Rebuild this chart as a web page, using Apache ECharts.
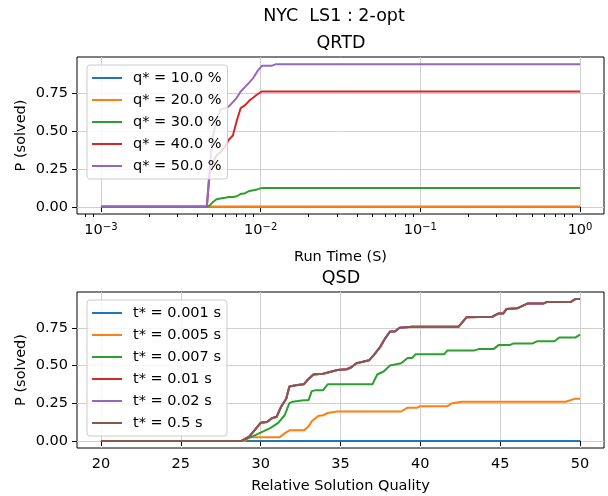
<!DOCTYPE html>
<html><head><meta charset="utf-8">
<script src="https://cdn.jsdelivr.net/npm/echarts@6/dist/echarts.min.js"></script>
<style>html,body{margin:0;padding:0;background:#fff}#c{width:608px;height:496px}</style>
</head><body><div id="c"></div>
<script>
// ---- texts ----
const supTitle = 'NYC  LS1 : 2-opt';
const qrtdTitle = 'QRTD';
const qsdTitle = 'QSD';
const qrtdXName = 'Run Time (S)';
const qsdXName = 'Relative Solution Quality';
const yName = 'P (solved)';

// ---- ticks ----
const qrtdTicks = [0.001, 0.01, 0.1, 1];
const qrtdTickExps = ['\u22123', '\u22122', '\u22121', '0'];
const qsdTicks = [20, 25, 30, 35, 40, 45, 50];
const pTicks = [0, 0.25, 0.5, 0.75];
const pTickLabels = ['0.00', '0.25', '0.50', '0.75'];

// ---- QRTD data (run time in s) ----
const qrtdNames = ['q* = 10.0 %', 'q* = 20.0 %', 'q* = 30.0 %', 'q* = 40.0 %', 'q* = 50.0 %'];
const qrtdTimes = [0.001, 0.0046, 0.0048, 0.0050, 0.0053, 0.0056, 0.0060, 0.0063, 0.0067, 0.0071,
                   0.0075, 0.0080, 0.0085, 0.0090, 0.0095, 0.0102, 0.0110, 0.0118, 0.0125, 1.0];
const qrtd10 = [0,0,0,0,0,0,0,0,0,0,0,0,0,0,0,0,0,0,0,0];
const qrtd20 = [0,0,0,0,0,0,0,0,0,0,0,0,0,0,0,0,0,0,0,0];
const qrtd30 = [0,0,0.01,0.03,0.05,0.055,0.06,0.065,0.065,0.07,0.085,0.09,0.105,0.11,0.115,0.125,0.125,0.125,0.125,0.125];
const qrtd40 = [0,0,0.22,0.29,0.34,0.36,0.40,0.44,0.47,0.57,0.65,0.67,0.70,0.72,0.74,0.76,0.76,0.76,0.76,0.76];
const qrtd50 = [0,0,0.26,0.45,0.58,0.64,0.65,0.66,0.69,0.72,0.76,0.79,0.82,0.85,0.89,0.93,0.93,0.93,0.94,0.94];

// ---- QSD data (relative solution quality) ----
const qsdNames = ['t* = 0.001 s', 't* = 0.005 s', 't* = 0.007 s', 't* = 0.01 s', 't* = 0.02 s', 't* = 0.5 s'];
const qsd0001X = [20, 50];
const qsd0001Y = [0, 0];
const qsd0005X = [20, 29.0, 29.3, 31.2, 31.5, 31.8, 32.7, 33.0, 33.2, 33.6, 33.9, 34.2, 34.8, 38.8, 39.2, 39.8, 40.0, 41.7, 42.0, 42.6, 49.1, 49.7, 50];
const qsd0005Y = [0, 0, 0.025, 0.025, 0.05, 0.07, 0.07, 0.095, 0.13, 0.165, 0.17, 0.185, 0.195, 0.195, 0.22, 0.22, 0.23, 0.23, 0.25, 0.26, 0.26, 0.28, 0.28];
const qsd0007X = [20, 28.8, 29.5, 30.1, 30.6, 31.1, 31.5, 31.8, 32.0, 32.7, 33.0, 33.2, 33.4, 33.9, 34.2, 37.0, 37.3, 37.7, 38.1, 38.8,
                  39.2, 39.5, 39.7, 41.5, 41.7, 43.4, 43.7, 44.6, 44.9, 45.6, 45.8, 47.0, 47.3, 48.4, 48.7, 49.7, 50];
const qsd0007Y = [0, 0, 0.03, 0.06, 0.085, 0.12, 0.17, 0.25, 0.26, 0.27, 0.27, 0.33, 0.335, 0.335, 0.375, 0.375, 0.44, 0.46, 0.50, 0.515,
                  0.55, 0.55, 0.575, 0.575, 0.60, 0.60, 0.61, 0.61, 0.635, 0.635, 0.645, 0.645, 0.66, 0.66, 0.685, 0.685, 0.705];
// t* = 0.01 s, 0.02 s and 0.5 s coincide
const qsdHighX = [20, 28.8, 29.3, 30.0, 30.4, 30.7, 31.0, 31.3, 31.6, 31.8, 32.3, 32.7, 32.9, 33.3, 33.9, 34.1, 34.8, 35.4, 35.7, 36.0,
                  36.4, 36.8, 37.1, 37.5, 37.8, 38.1, 38.4, 38.7, 39.5, 42.4, 42.9, 44.5, 44.9, 45.2, 45.4, 46.1, 46.7, 47.7, 47.9, 49.4, 49.7, 50];
const qsdHighY = [0, 0, 0.03, 0.12, 0.125, 0.15, 0.16, 0.23, 0.28, 0.36, 0.37, 0.375, 0.40, 0.44, 0.445, 0.45, 0.47, 0.475, 0.49, 0.515,
                  0.525, 0.535, 0.57, 0.625, 0.68, 0.725, 0.725, 0.75, 0.757, 0.757, 0.82, 0.823, 0.845, 0.845, 0.875, 0.88, 0.91, 0.91, 0.92, 0.92, 0.94, 0.94];

const colors = ['#1f77b4', '#ff7f0e', '#2ca02c', '#d62728', '#9467bd', '#8c564b'];
const FONT = '"DejaVu Sans", sans-serif';
const FS = 14.5;

function zip(xs, ys) { return xs.map((x, i) => [x, ys[i]]); }

// minor tick positions for the log axis
const minorTicks = [];
for (let e = -4; e <= 0; e++) for (let m = 2; m <= 9; m++) {
  const v = m * Math.pow(10, e);
  if (v > 0.000708 && v < 1.41) minorTicks.push(+v.toPrecision(3));
}

const grid0 = { left: 77, right: 4, top: 57, height: 157, show: true, borderColor: '#000', borderWidth: 1, backgroundColor: 'transparent' };
const grid1 = { left: 77, right: 4, top: 292, height: 156, show: true, borderColor: '#000', borderWidth: 1, backgroundColor: 'transparent' };

const tickStyle = { lineStyle: { color: '#000', width: 1 } };
const labelStyle = { color: '#000', fontSize: FS, fontFamily: FONT };
const splitStyle = { show: true, lineStyle: { color: '#cfcfcf', width: 1 } };

function yAxis(gi) {
  return {
    type: 'value', gridIndex: gi, min: -0.047, max: 0.987,
    axisLine: { show: false },
    axisTick: Object.assign({ show: true, length: 5, customValues: pTicks }, tickStyle),
    axisLabel: Object.assign({ customValues: pTicks, margin: 9,
      formatter: v => { const i = pTicks.findIndex(t => Math.abs(t - v) < 1e-6); return i >= 0 ? pTickLabels[i] : ''; } }, labelStyle),
    splitLine: splitStyle,
    name: yName, nameLocation: 'middle', nameRotate: 90, nameGap: 48, nameMoveOverlap: false,
    nameTextStyle: { color: '#000', fontSize: FS, fontFamily: FONT }
  };
}

const series = [];
const qrtdData = [qrtd10, qrtd20, qrtd30, qrtd40, qrtd50];
qrtdData.forEach((ys, i) => series.push({
  name: qrtdNames[i], type: 'line', xAxisIndex: 0, yAxisIndex: 0, data: zip(qrtdTimes, ys),
  symbol: 'none', lineStyle: { width: 2, color: colors[i] }, itemStyle: { color: colors[i] }
}));
const qsdData = [[qsd0001X, qsd0001Y], [qsd0005X, qsd0005Y], [qsd0007X, qsd0007Y], [qsdHighX, qsdHighY], [qsdHighX, qsdHighY], [qsdHighX, qsdHighY]];
qsdData.forEach((d, i) => series.push({
  name: qsdNames[i], type: 'line', xAxisIndex: 2, yAxisIndex: 1, data: zip(d[0], d[1]),
  symbol: 'none', lineStyle: { width: 2, color: colors[i] }, itemStyle: { color: colors[i] }
}));

const legendBase = {
  orient: 'vertical', icon: 'rect', itemWidth: 30, itemHeight: 2, itemGap: 6,
  padding: [5, 6, 5, 5], backgroundColor: 'rgba(255,255,255,0.8)',
  borderColor: '#cccccc', borderWidth: 1, borderRadius: 3,
  textStyle: { color: '#000', fontSize: FS, fontFamily: FONT, lineHeight: 16, padding: [0, 0, 0, 6] },
  selectedMode: false
};

function titleText(text, x, y) {
  return { type: 'text', x: x, y: y, z: 100,
    style: { text: text, font: '17.5px ' + FONT, fill: '#000', align: 'center', verticalAlign: 'middle', textAlign: 'center', textVerticalAlign: 'middle' } };
}

const option = {
  animation: false,
  backgroundColor: '#fff',
  grid: [grid0, grid1],
  xAxis: [
    { type: 'log', logBase: 10, gridIndex: 0, min: Math.pow(10, -3.15), max: Math.pow(10, 0.15),
      axisLine: { show: false },
      axisTick: Object.assign({ show: true, length: 5, customValues: qrtdTicks }, tickStyle),
      axisLabel: { customValues: qrtdTicks, margin: 8,
        formatter: v => { const i = qrtdTicks.findIndex(t => Math.abs(Math.log10(t) - Math.log10(v)) < 1e-6); return i >= 0 ? '{b|10}{s|' + qrtdTickExps[i] + '}' : ''; },
        rich: { b: { fontSize: FS, fontFamily: FONT, color: '#000', lineHeight: 16, verticalAlign: 'bottom' },
                s: { fontSize: 10, fontFamily: FONT, color: '#000', lineHeight: 16, verticalAlign: 'bottom', padding: [0, 0, 6, 0] } } },
      splitLine: splitStyle,
      name: qrtdXName, nameLocation: 'middle', nameGap: 36,
      nameTextStyle: { color: '#000', fontSize: FS, fontFamily: FONT } },
    { type: 'log', logBase: 10, gridIndex: 0, min: Math.pow(10, -3.15), max: Math.pow(10, 0.15), position: 'bottom',
      axisLine: { show: false },
      axisTick: Object.assign({ show: true, length: 3, customValues: minorTicks }, tickStyle),
      axisLabel: { show: false }, splitLine: { show: false } },
    { type: 'value', gridIndex: 1, min: 18.5, max: 51.5,
      axisLine: { show: false },
      axisTick: Object.assign({ show: true, length: 5, customValues: qsdTicks }, tickStyle),
      axisLabel: Object.assign({ customValues: qsdTicks, margin: 9 }, labelStyle),
      splitLine: splitStyle,
      name: qsdXName, nameLocation: 'middle', nameGap: 31,
      nameTextStyle: { color: '#000', fontSize: FS, fontFamily: FONT } }
  ],
  yAxis: [yAxis(0), yAxis(1)],
  legend: [
    Object.assign({}, legendBase, { data: qrtdNames, left: 87, top: 65 }),
    Object.assign({}, legendBase, { data: qsdNames, left: 87, top: 300 })
  ],
  graphic: [
    titleText(supTitle, 334, 16),
    titleText(qrtdTitle, 341, 43),
    titleText(qsdTitle, 341, 278)
  ],
  series: series
};

const chart = echarts.init(document.getElementById('c'), null, { renderer: 'canvas' });
chart.setOption(option);
</script>
</body></html>
